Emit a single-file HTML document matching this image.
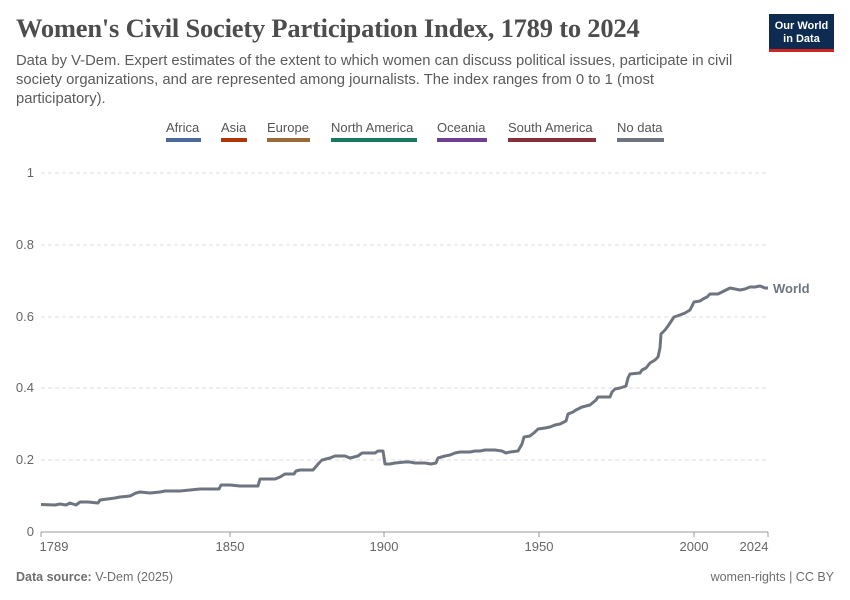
<!DOCTYPE html>
<html><head><meta charset="utf-8"><style>
body{margin:0;width:850px;height:600px;background:#fff;font-family:"Liberation Sans",sans-serif;overflow:hidden;position:relative}
.t{position:absolute;left:16px;top:13px;font-family:"Liberation Serif",serif;font-size:26.5px;color:#4d4d4d;font-weight:bold;letter-spacing:-0.2px}
.s{position:absolute;left:16px;top:52px;width:725px;font-size:14.8px;line-height:19px;color:#5b5b5b}
.logo{position:absolute;left:769px;top:14px;width:65px;height:38px;background:#0e2c52;border-bottom:3px solid #ce261e;color:#fff;font-size:11px;font-weight:bold;text-align:center;line-height:13px;padding-top:6px;box-sizing:border-box}
.f{position:absolute;top:570px;font-size:12.5px;color:#6e6e6e}
</style></head><body>
<div class="t">Women's Civil Society Participation Index, 1789 to 2024</div>
<div class="s">Data by V-Dem. Expert estimates of the extent to which women can discuss political issues, participate in civil society organizations, and are represented among journalists. The index ranges from 0 to 1 (most participatory).</div>
<div class="logo">Our World<br>in Data</div>
<svg width="850" height="600" style="position:absolute;left:0;top:0" font-family="Liberation Sans, sans-serif">
<g font-size="13" fill="#555">
<text x="166" y="132">Africa</text><rect x="166" y="138" width="35" height="4" fill="#4c6a9c"/>
<text x="221" y="132">Asia</text><rect x="221" y="138" width="26" height="4" fill="#b13507"/>
<text x="267" y="132">Europe</text><rect x="267" y="138" width="43" height="4" fill="#9a6b35"/>
<text x="331" y="132">North America</text><rect x="331" y="138" width="86" height="4" fill="#18795e"/>
<text x="437" y="132">Oceania</text><rect x="437" y="138" width="50" height="4" fill="#6d3e91"/>
<text x="508" y="132">South America</text><rect x="508" y="138" width="88" height="4" fill="#883039"/>
<text x="617" y="132">No data</text><rect x="617" y="138" width="47" height="4" fill="#6e7581"/>
</g>
<g stroke="#ddd" stroke-dasharray="4,3">
<line x1="41" x2="768" y1="173" y2="173"/><line x1="41" x2="768" y1="245" y2="245"/><line x1="41" x2="768" y1="317" y2="317"/><line x1="41" x2="768" y1="388" y2="388"/><line x1="41" x2="768" y1="460" y2="460"/>
</g>
<line x1="41" x2="768" y1="532" y2="532" stroke="#999"/>
<g font-size="13" fill="#666" text-anchor="end">
<text x="34" y="177">1</text><text x="34" y="249">0.8</text><text x="34" y="321">0.6</text><text x="34" y="392">0.4</text><text x="34" y="464">0.2</text><text x="34" y="536">0</text>
</g>
<g font-size="13" fill="#666" text-anchor="middle">
<text x="54" y="551">1789</text><text x="230" y="551">1850</text><text x="384" y="551">1900</text><text x="539" y="551">1950</text><text x="694" y="551">2000</text><text x="754" y="551">2024</text>
</g>
<g stroke="#999"><line x1="41" x2="41" y1="532" y2="537"/><line x1="230" x2="230" y1="532" y2="537"/><line x1="384" x2="384" y1="532" y2="537"/><line x1="539" x2="539" y1="532" y2="537"/><line x1="694" x2="694" y1="532" y2="537"/><line x1="768" x2="768" y1="532" y2="537"/></g>
<polyline fill="none" stroke="#6e7581" stroke-width="3" stroke-linejoin="round" points="41,504.5 55,505 60,504 66,505 70,503 76,505 80,502 88,502 98,503 100,500 115,498 120,497 130,496 136,493 140,492 150,493 160,492 165,491 180,491 190,490 200,489 219,489 221,485 230,485 240,486 258,486 260,479 275,479 280,477 285,474 294,474 296,471 300,470 313,470 319,463 322,460 330,458 335,456 345,456 350,458 358,456 362,453 375,453 378,451 383,451 385,464 390,464 395,463 405,462 410,462 415,463 425,463 431,464 436,463 438,458 445,456 450,455 455,453 460,452 470,452 475,451 480,451 485,450 495,450 502,451 506,453 510,452 518,451 522,444 524,437 530,436 535,432 538,429 545,428 550,427 555,425 560,424 566,421 568,414 573,412 576,410 582,407 586,406 590,405 596,400 598,397 610,397 612,392 615,389 620,388 626,386 628,378 630,374 640,373 642,370 646,368 650,363 655,360 658,357 660,348 661,334 665,330 668,326 672,320 674,317 680,315 685,313 690,310 692,306 694,302 700,301 703,299 707,297 710,294 718,294 722,292 726,290 730,288 735,289 740,290 745,289 750,287 755,287 760,286 765,288 768,288"/>
<text x="773" y="293" font-size="13" fill="#6e7581" font-weight="bold">World</text>
</svg>
<div class="f" style="left:16px"><b>Data source:</b> V-Dem (2025)</div>
<div class="f" style="right:16px">women-rights | CC BY</div>
</body></html>
